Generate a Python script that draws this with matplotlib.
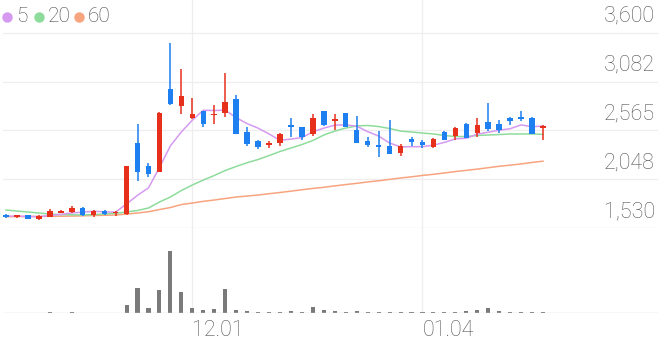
import matplotlib.pyplot as plt
import numpy as np
from matplotlib.lines import Line2D

# daily candles, Nov 2023 - Jan 2024 (index 17 = 12.01, index 38 = 01.04)
opens = [1673, 1650, 1665, 1629, 1650, 1692, 1697, 1746, 1665, 1714,
         1686, 1676, 2429, 2191, 2128, 3006, 2825, 2695, 2772, 2726,
         2748, 2896, 2546, 2457, 2408, 2429, 2627, 2599, 2525, 2769,
         2669, 2748, 2570, 2457, 2411, 2401, 2330, 2475, 2446, 2387,
         2549, 2507, 2634, 2542, 2652, 2634, 2701, 2705, 2701, 2595]
closes = [1647, 1665, 1629, 1657, 1710, 1710, 1746, 1665, 1710, 1676,
          1692, 2188, 2121, 2103, 2751, 2846, 2931, 2737, 2634, 2737,
          2864, 2531, 2425, 2393, 2429, 2525, 2599, 2499, 2701, 2627,
          2684, 2607, 2437, 2411, 2390, 2316, 2401, 2446, 2411, 2472,
          2464, 2588, 2482, 2623, 2578, 2570, 2666, 2684, 2525, 2613]
highs = [1679, 1668, 1668, 1668, 1732, 1716, 1764, 1753, 1721, 1721,
         1714, 2191, 2634, 2223, 2756, 3494, 3221, 2913, 2777, 2836,
         3175, 2942, 2599, 2459, 2454, 2542, 2694, 2605, 2737, 2772,
         2737, 2751, 2714, 2499, 2560, 2677, 2419, 2499, 2464, 2482,
         2560, 2599, 2641, 2694, 2860, 2677, 2703, 2772, 2703, 2618]
lows = [1636, 1636, 1626, 1615, 1647, 1689, 1689, 1657, 1647, 1668,
        1661, 1673, 2029, 2075, 2124, 2836, 2737, 2687, 2602, 2634,
        2708, 2528, 2400, 2365, 2382, 2400, 2499, 2464, 2507, 2613,
        2570, 2602, 2435, 2387, 2281, 2316, 2294, 2400, 2382, 2379,
        2459, 2464, 2480, 2499, 2560, 2542, 2623, 2669, 2523, 2464]

ma5 = [1655, 1657, 1652, 1650, 1662, 1674, 1690, 1698, 1708, 1701,
       1698, 1786, 1877, 1956, 2171, 2402, 2550, 2674, 2780, 2777,
       2781, 2701, 2638, 2590, 2528, 2461, 2474, 2489, 2551, 2590,
       2622, 2624, 2611, 2553, 2506, 2432, 2391, 2393, 2393, 2409,
       2439, 2476, 2483, 2526, 2547, 2568, 2584, 2624, 2605, 2612]
ma20 = [1721, 1710, 1700, 1689, 1678, 1673, 1670, 1668, 1673, 1678,
        1686, 1700, 1716, 1742, 1806, 1859, 1928, 1986, 2039, 2087,
        2140, 2183, 2223, 2257, 2299, 2342, 2379, 2416, 2459, 2517,
        2559, 2591, 2613, 2618, 2607, 2586, 2559, 2549, 2538, 2528,
        2512, 2501, 2501, 2512, 2517, 2522, 2528, 2528, 2528, 2524]
ma60 = [1650, 1651, 1652, 1653, 1654, 1655, 1657, 1659, 1663, 1665,
        1668, 1678, 1689, 1703, 1726, 1747, 1779, 1795, 1813, 1827,
        1843, 1859, 1869, 1880, 1894, 1907, 1921, 1936, 1950, 1962,
        1977, 1991, 2004, 2019, 2031, 2046, 2061, 2073, 2088, 2100,
        2114, 2129, 2142, 2155, 2170, 2185, 2197, 2210, 2226, 2239]

# volume in thousand shares
volume = [40, 30, 35, 40, 60, 30, 50, 45, 40, 35,
          30, 750, 2500, 500, 2230, 6130, 2100, 470, 330, 400,
          2370, 330, 200, 130, 130, 130, 200, 130, 600, 330,
          180, 130, 150, 130, 130, 140, 130, 120, 130, 130,
          140, 130, 170, 330, 470, 150, 130, 140, 130, 100]

price_ticks = [1530, 2048, 2565, 3082, 3600]
date_pos = [17, 38]
date_labels = ['12.01', '01.04']

red = '#e6301b'
blue = '#1d7ff0'
ma_colors = ['#d59af0', '#8edc9c', '#f7a47f']
grid_c = '#eeeeee'
text_c = '#555555'
font = ['Roboto', 'DejaVu Sans']

W, H = 658, 342
fig = plt.figure(figsize=(W / 100, H / 100), dpi=100)

def px_axes(x0, y0, x1, y1):
    return fig.add_axes([x0 / W, 1 - y1 / H, (x1 - x0) / W, (y1 - y0) / H])

ax = px_axes(3, 0, 658, 228)
axv = px_axes(3, 228, 658, 313)

x = np.arange(len(closes))
xlim = (-0.274, 59.49)

for a in (ax, axv):
    a.set_xlim(*xlim)
    a.axis('off')
    for p in date_pos:
        a.axvline(p, color=grid_c, lw=0.9, zorder=0)

ax.set_ylim(1530, 3950)
axv.set_ylim(0, 8400)

for t in price_ticks:
    ax.axhline(t, color='#e6e6e6' if t == price_ticks[0] else grid_c, lw=0.9, zorder=0)
    ax.annotate(f'{t:,}', xy=(1, t), xycoords=('axes fraction', 'data'),
                xytext=(-3, 6), textcoords='offset pixels', ha='right', va='bottom',
                fontsize=15.5, color=text_c, family=font, fontweight='light')

# moving averages
ax.plot(x, ma60, color=ma_colors[2], lw=1.1, zorder=2)
ax.plot(x, ma20, color=ma_colors[1], lw=1.1, zorder=2)
ax.plot(x, ma5, color=ma_colors[0], lw=1.1, zorder=2)

# candles
o = np.array(opens); c = np.array(closes)
cols = [red if cc >= oo else blue for oo, cc in zip(o, c)]
ax.vlines(x, lows, highs, colors=cols, lw=1.1, zorder=3)
body_h = np.maximum(np.abs(c - o), 14)
ax.bar(x, body_h, bottom=np.minimum(o, c), width=0.5, color=cols, zorder=4, linewidth=0)

# volume
axv.bar(x, volume, width=0.37, color='#7a7a7a', linewidth=0, zorder=2)
axv.axhline(0, color='#dadada', lw=1.0, zorder=3)

for p, lab in zip(date_pos, date_labels):
    axv.annotate(lab, xy=(p, 0), xycoords='data', xytext=(0, -7), textcoords='offset pixels',
                 ha='left', va='top', fontsize=15.5, color=text_c, family=font,
                 fontweight='light')

# legend
leg_x = [7, 39, 79]
leg_txt = ['5', '20', '60']
for lx, lt, lc in zip(leg_x, leg_txt, ma_colors):
    fig.add_artist(Line2D([lx / W], [1 - 17 / H], marker='o', ms=7.5, color=lc,
                          markeredgewidth=0, transform=fig.transFigure))
    fig.text((lx + 9) / W, 1 - 17 / H, lt, ha='left', va='center', fontsize=15,
             color='#4a4a4a', family=font, fontweight='light')

fig.savefig('out.png', dpi=100)
